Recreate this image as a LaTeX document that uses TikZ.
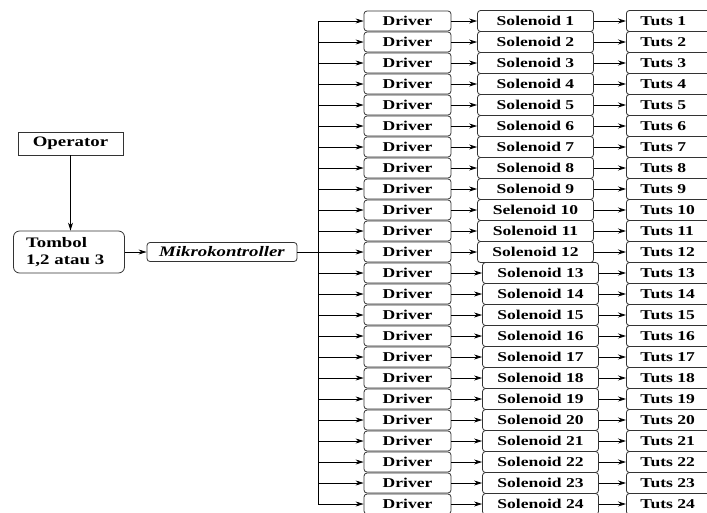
\documentclass[tikz,border=0pt]{standalone}
\usepackage{fontspec}
\setmainfont{Liberation Serif}[FakeStretch=1.3]
\usetikzlibrary{arrows.meta, calc}
\tikzstyle{block} = [rectangle, draw=black!80, line width=0.8pt, rounded corners=3pt, minimum height=20pt, inner sep=0pt, text centered, font=\fontsize{13.5}{15}\selectfont\bfseries]
\tikzstyle{bigtext} = [font=\fontsize{14.5}{16.5}\selectfont\bfseries]
\tikzstyle{arrow} = [line width=0.8pt,->,>={Stealth[length=8pt, width=5pt]}]

\begin{document}
\begin{tikzpicture}[x=1pt, y=-1pt]
		\useasboundingbox (0,0) rectangle (707,512);
		\node (Operator) [block, bigtext, rounded corners=0pt, minimum width=105pt, minimum height=23pt] at (70.5,143.5) {Operator};
		\node (Tombol) [block, bigtext, rounded corners=6pt, minimum width=111pt, minimum height=42pt, text width=86pt, align=left] at (69,252) {Tombol\\1,2 atau 3};
		\node (Mikro) [block, bigtext, minimum width=150pt, minimum height=19pt] at (222,252) {\textit{Mikrokontroller}};
		\draw [arrow] (Operator) -- (Operator |- Tombol.north);
		\draw [arrow] (Tombol.east) -- (Mikro.west);
		\foreach \i in {1,...,24} {
			\pgfmathsetmacro{\y}{21+21*(\i-1)}
			\ifnum\i>12 \def\dx{5}\else\def\dx{0}\fi
			\ifnum\i=10 \def\sname{Selenoid}\else\def\sname{Solenoid}\fi
			\coordinate (Bus\i) at (318,\y);
			\node (Driver\i) [block, minimum width=87pt] at (407.5,\y) {Driver};
			\node (Solenoid\i) [block, minimum width=116pt, minimum height=21pt] at (535.5+\dx,\y) {\sname\ \i};
			\node (Tuts\i) [block, text width=76pt, inner xsep=14pt, align=left, minimum height=21pt, anchor=west] at (626,\y) {Tuts \i};
			\draw [arrow] (Bus\i) -- (Driver\i);
			\draw [arrow] (Driver\i) -- (Solenoid\i);
			\draw [arrow] (Solenoid\i) -- (Tuts\i);
		}
		\draw [line width=0.8pt] (Bus1) -- (Bus24);
		\draw [line width=0.8pt] (Mikro) -- (Bus12);
\end{tikzpicture}
\end{document}
